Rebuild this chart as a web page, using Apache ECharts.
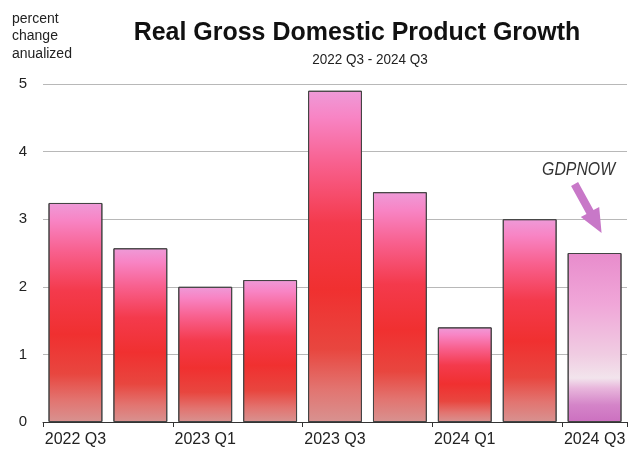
<!DOCTYPE html>
<html>
<head>
<meta charset="utf-8">
<script src="https://cdn.jsdelivr.net/npm/echarts@6/dist/echarts.min.js"></script>
<style>
  html, body { margin: 0; padding: 0; background: #fff; }
  #chart { width: 628px; height: 450px; }
</style>
</head>
<body>
<div id="chart"></div>
<script>
// Quarterly real GDP growth, percent change at an annual rate
const quarters = ['2022 Q3', '2022 Q4', '2023 Q1', '2023 Q2', '2023 Q3', '2023 Q4', '2024 Q1', '2024 Q2', '2024 Q3'];
const growth = [3.24, 2.57, 2.0, 2.1, 4.9, 3.4, 1.4, 3.0, 2.5];
const nowcastIndex = 8;           // last quarter is the GDPNow estimate
const yTicks = [0, 1, 2, 3, 4, 5];

const titleText = 'Real Gross Domestic Product Growth';
const subtitleText = '2022 Q3 - 2024 Q3';
const unitText = 'percent\nchange\nanualized';
const nowcastText = 'GDPNOW';

const FONT = '"Liberation Sans", Arial, sans-serif';

const redFill = new echarts.graphic.LinearGradient(0, 0, 0, 1, [
  { offset: 0.00, color: '#ee9ad8' },
  { offset: 0.08, color: '#f884c4' },
  { offset: 0.22, color: '#f8608e' },
  { offset: 0.40, color: '#f43a4c' },
  { offset: 0.60, color: '#f03030' },
  { offset: 0.78, color: '#e8463f' },
  { offset: 0.90, color: '#e27470' },
  { offset: 1.00, color: '#d89290' }
]);
const nowFill = new echarts.graphic.LinearGradient(0, 0, 0, 1, [
  { offset: 0.00, color: '#e88ccc' },
  { offset: 0.30, color: '#f0a6d8' },
  { offset: 0.60, color: '#f0cce2' },
  { offset: 0.74, color: '#f2e4ec' },
  { offset: 0.80, color: '#e8b6dc' },
  { offset: 0.90, color: '#d484c8' },
  { offset: 1.00, color: '#cc70c0' }
]);

const barData = growth.map((v, i) => ({
  value: v,
  itemStyle: { color: i === nowcastIndex ? nowFill : redFill }
}));

const chart = echarts.init(document.getElementById('chart'), null, { renderer: 'canvas' });

chart.setOption({
  animation: false,
  backgroundColor: '#ffffff',
  textStyle: { fontFamily: FONT },
  grid: { left: 43, top: 84, width: 589, height: 338, containLabel: false },
  xAxis: {
    type: 'category',
    data: quarters,
    axisLine: { lineStyle: { color: '#333', width: 1 } },
    axisTick: { show: true, length: 5, lineStyle: { color: '#333' } },
    axisLabel: { interval: 1, color: '#222', fontSize: 16, fontFamily: FONT, margin: 10 }
  },
  yAxis: {
    type: 'value',
    min: yTicks[0], max: yTicks[yTicks.length - 1], interval: 1,
    axisLine: { show: false },
    axisTick: { show: false },
    axisLabel: { color: '#222', fontSize: 15, fontFamily: FONT, margin: 16 },
    splitLine: { lineStyle: { color: '#b8b8b8', width: 1 } }
  },
  series: [{
    type: 'bar',
    data: barData,
    barCategoryGap: '17%',
    itemStyle: { borderColor: '#444', borderWidth: 1 }
  }]
});

// Headings, unit note and the GDPNow arrow pointing at the nowcast bar
function drawAnnotations() {
  const top = chart.convertToPixel({ xAxisIndex: 0, yAxisIndex: 0 }, [nowcastIndex, growth[nowcastIndex]]);
  const tip = [top[0] + 7, top[1] - 20];
  const tail = [tip[0] - 27, tip[1] - 49];
  const dx = tip[0] - tail[0], dy = tip[1] - tail[1];
  const len = Math.sqrt(dx * dx + dy * dy);
  const ux = dx / len, uy = dy / len;
  const nx = -uy, ny = ux;
  const shaftW = 4, headW = 10.5, headL = 24;
  const base = [tip[0] - ux * headL, tip[1] - uy * headL];
  const pts = [
    [tail[0] + nx * shaftW, tail[1] + ny * shaftW],
    [base[0] + nx * shaftW, base[1] + ny * shaftW],
    [base[0] + nx * headW, base[1] + ny * headW],
    tip,
    [base[0] - nx * headW, base[1] - ny * headW],
    [base[0] - nx * shaftW, base[1] - ny * shaftW],
    [tail[0] - nx * shaftW, tail[1] - ny * shaftW]
  ];
  chart.setOption({
    graphic: [
      {
        type: 'text',
        x: 357, y: 33, scaleX: 0.96,
        style: {
          text: titleText, fill: '#111',
          font: 'bold 26px ' + FONT,
          align: 'center', verticalAlign: 'middle'
        }
      },
      {
        type: 'text',
        x: 370, y: 60, scaleX: 0.9,
        style: {
          text: subtitleText, fill: '#222',
          font: '15px ' + FONT,
          align: 'center', verticalAlign: 'middle'
        }
      },
      {
        type: 'text',
        x: 12, y: 10,
        style: {
          text: unitText, fill: '#222',
          font: '14px ' + FONT, lineHeight: 17.5,
          align: 'left', verticalAlign: 'top'
        }
      },
      {
        type: 'polygon',
        shape: { points: pts },
        style: { fill: '#c878c8' },
        z: 10
      },
      {
        type: 'text',
        x: tail[0] + 4, y: tail[1] - 14, scaleX: 0.88,
        style: {
          text: nowcastText, fill: '#333',
          font: 'italic 18px ' + FONT,
          align: 'center', verticalAlign: 'middle'
        },
        z: 10
      }
    ]
  });
}
drawAnnotations();
</script>
</body>
</html>
